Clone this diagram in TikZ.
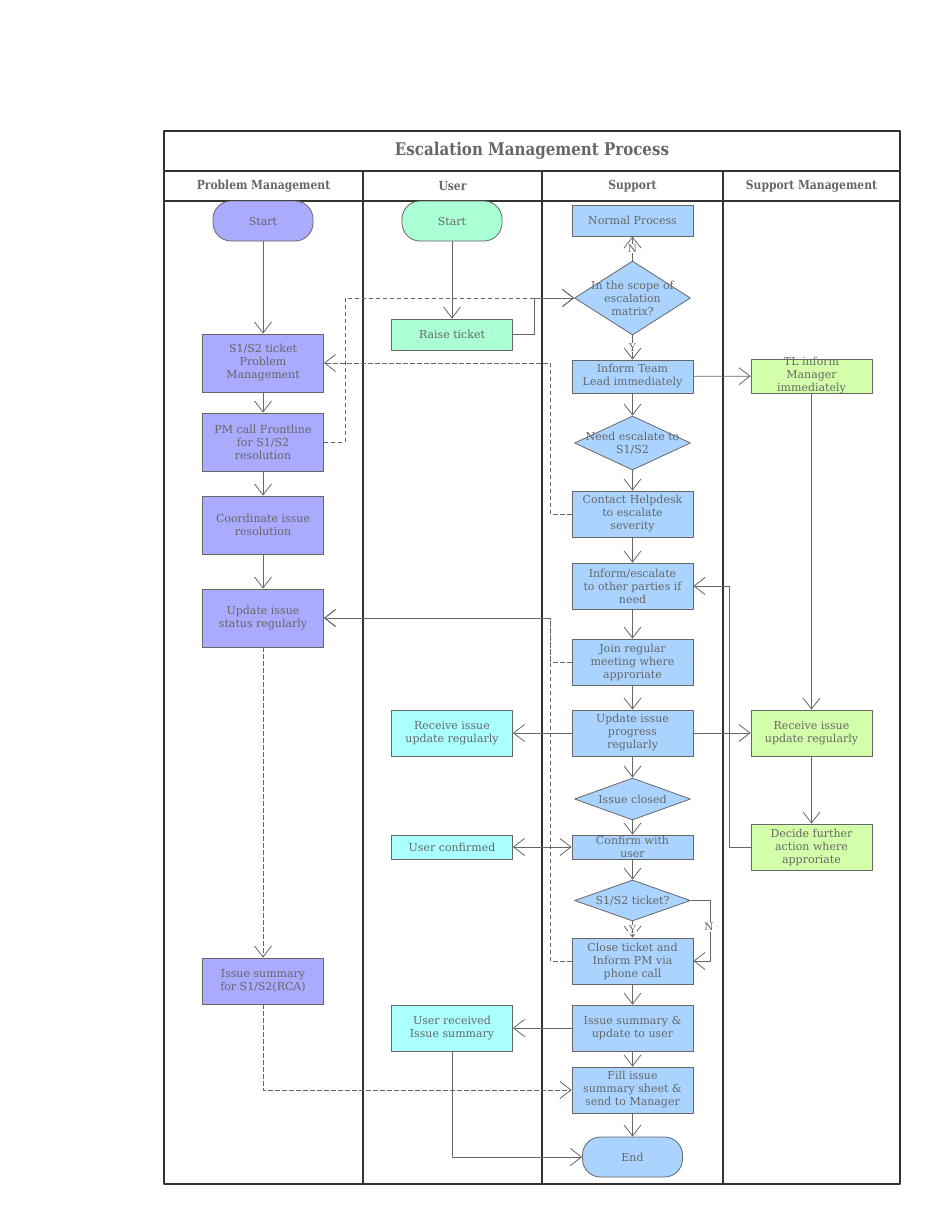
\documentclass[tikz,border=0pt]{standalone}
\usepackage{fontspec}
\setmainfont{DejaVu Serif}
\newfontfamily\headfont[FakeStretch=0.86]{DejaVu Serif}
\usetikzlibrary{arrows.meta,shapes.geometric}

\definecolor{txtgray}{HTML}{666666}
\definecolor{linegray}{HTML}{666666}
\definecolor{framegray}{HTML}{333333}
\definecolor{pmfill}{HTML}{AAAAFF}
\definecolor{userfill}{HTML}{AAFFD4}
\definecolor{usercyan}{HTML}{AAFFFF}
\definecolor{supfill}{HTML}{AAD4FF}
\definecolor{smfill}{HTML}{D4FFAA}

\begin{document}
\begin{tikzpicture}[x=1pt,y=-1pt,line join=round,
    every node/.style={text=txtgray,align=center,font=\fontsize{11}{13}\selectfont},
    >={Straight Barb[length=11pt,width=17pt]},
    lanebox/.style={draw=framegray,line width=1.6pt},
    box/.style={draw=linegray,line width=0.8pt,minimum width=121pt,inner xsep=2pt,inner ysep=0pt},
    terminal/.style={box,rounded corners=18pt,minimum width=100pt,minimum height=40pt},
    decision/.style={draw=linegray,line width=0.8pt,diamond,fill=supfill,minimum width=116pt,inner sep=0pt},
    flow/.style={draw=linegray,line width=0.8pt,->},
    twoway/.style={draw=linegray,line width=0.8pt,<->},
    back/.style={flow,dashed,dash pattern=on 4.5pt off 2.5pt},
    lbl/.style={fill=white,inner sep=1pt,font=\fontsize{10.5}{12}\selectfont},
    lanehead/.style={font=\headfont\bfseries\fontsize{12.5}{14}\selectfont}]

    \useasboundingbox (0,0) rectangle (931,1215);

    % Pool and lanes
    \draw[lanebox] (164,131) rectangle (900,1184);
    \draw[lanebox] (164,171) -- (900,171);
    \draw[lanebox] (164,201) -- (900,201);
    \foreach \x in {363,542,723}
        \draw[lanebox] (\x,171) -- (\x,1184);

    \draw (532,151) node[font=\headfont\bfseries\fontsize{17.5}{19}\selectfont] (title) {Escalation Management Process};
    \draw (263.5,186) node[lanehead] (hpm) {Problem Management};
    \draw (452.5,186) node[lanehead] (huser) {User};
    \draw (632.5,186) node[lanehead] (hsup) {Support};
    \draw (811.5,186) node[lanehead] (hsm) {Support Management};

    % Problem Management
    \draw (263,221) node[terminal,fill=pmfill] (start1) {Start};
    \draw (263,363) node[box,fill=pmfill,minimum height=58pt] (pmticket) {S1/S2 ticket\\Problem\\Management};
    \draw (263,442) node[box,fill=pmfill,minimum height=58pt] (pmcall) {PM call Frontline\\for S1/S2\\resolution};
    \draw (263,525) node[box,fill=pmfill,minimum height=58pt] (coord) {Coordinate issue\\resolution};
    \draw (263,618) node[box,fill=pmfill,minimum height=58pt] (status) {Update issue\\status regularly};
    \draw (263,981) node[box,fill=pmfill,minimum height=46pt] (rca) {Issue summary\\for S1/S2(RCA)};

    % User
    \draw (452,221) node[terminal,fill=userfill] (start2) {Start};
    \draw (452,334.5) node[box,fill=userfill,minimum height=31pt] (raise) {Raise ticket};
    \draw (452,733) node[box,fill=usercyan,minimum height=46pt] (urecv) {Receive issue\\update regularly};
    \draw (452,847) node[box,fill=usercyan,minimum height=24pt] (uconf) {User confirmed};
    \draw (452,1028) node[box,fill=usercyan,minimum height=46pt] (usum) {User received\\Issue summary};

    % Support
    \draw (632.5,220.5) node[box,fill=supfill,minimum height=31pt] (normal) {Normal Process};
    \draw (632.5,298) node[decision,minimum height=74pt,label={center:In the scope of\\escalation\\matrix?}] (scope) {};
    \draw (632.5,376.5) node[box,fill=supfill,minimum height=33pt] (teamlead) {Inform Team\\Lead immediately};
    \draw (632.5,443) node[decision,minimum height=54pt,label={center:Need escalate to\\S1/S2}] (needesc) {};
    \draw (632.5,514) node[box,fill=supfill,minimum height=46pt] (helpdesk) {Contact Helpdesk\\to escalate\\severity};
    \draw (632.5,586) node[box,fill=supfill,minimum height=46pt] (parties) {Inform/escalate\\to other parties if\\need};
    \draw (632.5,662) node[box,fill=supfill,minimum height=46pt] (meeting) {Join regular\\meeting where\\approriate};
    \draw (632.5,733) node[box,fill=supfill,minimum height=46pt] (progress) {Update issue\\progress\\regularly};
    \draw (632.5,799) node[decision,minimum height=42pt,label={center:Issue closed}] (closed) {};
    \draw (632.5,847) node[box,fill=supfill,minimum height=24pt,label={center:Confirm with\\user}] (confirm) {};
    \draw (632.5,900.5) node[decision,minimum height=41pt,label={center:S1/S2 ticket?}] (sticket) {};
    \draw (632.5,961) node[box,fill=supfill,minimum height=46pt] (closetk) {Close ticket and\\Inform PM via\\phone call};
    \draw (632.5,1028) node[box,fill=supfill,minimum height=46pt] (supsum) {Issue summary \&\\update to user};
    \draw (632.5,1090) node[box,fill=supfill,minimum height=46pt] (sheet) {Fill issue\\summary sheet \&\\send to Manager};
    \draw (632.5,1157) node[terminal,fill=supfill] (end) {End};

    % Support Management
    \draw (811.5,376) node[box,fill=smfill,minimum height=34pt,label={center:TL inform\\Manager\\immediately}] (tlinform) {};
    \draw (811.5,733) node[box,fill=smfill,minimum height=46pt] (smrecv) {Receive issue\\update regularly};
    \draw (811.5,847) node[box,fill=smfill,minimum height=46pt] (decide) {Decide further\\action where\\approriate};

    % Main flow
    \draw[flow] (start1) -- (pmticket);
    \draw[flow] (pmticket) -- (pmcall);
    \draw[flow] (pmcall) -- (coord);
    \draw[flow] (coord) -- (status);
    \draw[flow] (start2) -- (raise);
    \draw[flow] (raise.east) -- ++(21,0) |- (scope.west);
    \draw[flow] (scope) -- node[lbl] (nlbl) {N} (normal);
    \draw[flow] (scope) -- node[lbl] (ylbl) {Y} (teamlead);
    \draw[flow] (teamlead) -- (tlinform);
    \draw[flow] (teamlead) -- (needesc);
    \draw[flow] (needesc) -- (helpdesk);
    \draw[flow] (helpdesk) -- (parties);
    \draw[flow] (parties) -- (meeting);
    \draw[flow] (meeting) -- (progress);
    \draw[flow] (progress) -- (urecv);
    \draw[flow] (progress) -- (smrecv);
    \draw[flow] (progress) -- (closed);
    \draw[flow] (closed) -- (confirm);
    \draw[twoway] (uconf) -- (confirm);
    \draw[flow] (confirm) -- (sticket);
    \draw[flow] (sticket) -- node[lbl] (ylbl2) {Y} (closetk);
    \draw[flow] (sticket.east) -- ++(19,0) |- (closetk.east);
    \draw (709,927) node[lbl] (nlbl2) {N};
    \draw[flow] (closetk) -- (supsum);
    \draw[flow] (supsum) -- (usum);
    \draw[flow] (supsum) -- (sheet);
    \draw[flow] (sheet) -- (end);
    \draw[flow] (usum.south) |- (end.west);
    \draw[flow] (tlinform) -- (smrecv);
    \draw[flow] (smrecv) -- (decide);
    \draw[flow] (decide.west) -- ++(-21,0) |- (parties.east);
    % Dashed links to Problem Management
    \draw[back] (pmcall.east) -- ++(21,0) |- (scope.west);
    \draw[back] (helpdesk.west) -- ++(-21,0) |- (pmticket.east);
    \draw[back] (meeting.west) -- ++(-21,0) |- (status.east);
    \draw[back] (closetk.west) -- ++(-21,0) |- (status.east);
    \draw[back] (status) -- (rca);
    \draw[back] (rca.south) |- (sheet.west);
\end{tikzpicture}
\end{document}
